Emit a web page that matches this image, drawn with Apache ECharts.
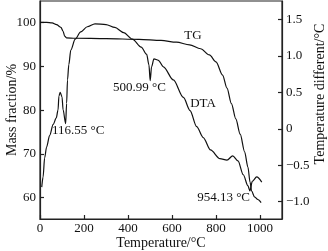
<!DOCTYPE html>
<html>
<head>
<meta charset="utf-8">
<script src="https://cdn.jsdelivr.net/npm/echarts@6/dist/echarts.min.js"></script>
<style>html,body{margin:0;padding:0;background:#fff}#c{width:328px;height:251px}</style>
</head>
<body>
<div id="c"></div>
<script>
// Temperature (°C) and TG mass fraction (%)
var tgTemp = [0, 30, 55, 75, 95, 105, 112, 120, 160, 300, 450, 550, 620, 680, 730, 770, 800, 830, 850, 870, 890, 910, 930, 945, 955, 962, 975, 990, 1005];
var tgMass = [100, 100, 99.9, 99.5, 98.9, 98.0, 96.9, 96.5, 96.4, 96.3, 96.15, 95.9, 95.5, 94.9, 94.0, 92.6, 91.0, 88.0, 85.0, 81.5, 78.0, 74.5, 70.5, 67.0, 63.5, 61.5, 60.2, 59.6, 58.9];
// Temperature (°C) and DTA temperature difference (°C)
var dtaTemp = [8, 14, 21, 30, 44, 60, 74, 82, 86, 92, 100, 105, 116.55, 121, 125, 131, 140, 160, 185, 215, 250, 300, 340, 380, 420, 460, 485, 495, 500.99, 507, 518, 538, 561, 606, 652, 682, 712, 742, 775, 818, 850, 876, 900, 924, 945, 954.13, 965, 985, 1008];
var dtaDiff = [-0.8, -0.66, -0.4, -0.25, -0.09, 0.06, 0.15, 0.26, 0.45, 0.5, 0.44, 0.26, 0.07, 0.35, 0.67, 0.88, 1.08, 1.23, 1.33, 1.40, 1.44, 1.43, 1.39, 1.32, 1.23, 1.12, 1.02, 0.88, 0.66, 0.85, 0.96, 0.94, 0.85, 0.67, 0.43, 0.25, 0.03, -0.12, -0.29, -0.41, -0.43, -0.37, -0.44, -0.63, -0.78, -0.85, -0.72, -0.66, -0.73];
// Tick labels
var xTicks = [0, 200, 400, 600, 800, 1000];
var leftTicks = [60, 70, 80, 90, 100];
var rightTicks = [-1.0, -0.5, 0, 0.5, 1.0, 1.5];
var rightTickText = {'-1': '\u22121.0', '-0.5': '\u22120.5', '0': '0', '0.5': '0.5', '1': '1.0', '1.5': '1.5'};

var FONT = '"Liberation Serif", "Times New Roman", serif';
function pairs(a, b) { return a.map(function (v, i) { return [v, b[i]]; }); }

var chart = echarts.init(document.getElementById('c'), null, {renderer: 'canvas'});
var axisLineStyle = {color: '#222', width: 1.2};
chart.setOption({
  animation: false,
  backgroundColor: '#fff',
  grid: {left: 40, right: 46, top: 1, bottom: 32, show: true, borderColor: '#222', borderWidth: 1.2, backgroundColor: 'transparent'},
  xAxis: {
    type: 'value', min: 0, max: 1100,
    axisLine: {show: true, onZero: false, lineStyle: axisLineStyle},
    axisTick: {show: true, inside: true, length: 4, customValues: xTicks, lineStyle: axisLineStyle},
    axisLabel: {customValues: xTicks, margin: 3, color: '#111', fontFamily: FONT, fontSize: 13,
      formatter: function (v) { return String(v); }},
    splitLine: {show: false}
  },
  yAxis: [{
    type: 'value', min: 55.15, max: 104.9, position: 'left',
    axisLine: {show: true, onZero: false, lineStyle: axisLineStyle},
    axisTick: {show: true, inside: true, length: 4, customValues: leftTicks, lineStyle: axisLineStyle},
    axisLabel: {customValues: leftTicks, margin: 4, color: '#111', fontFamily: FONT, fontSize: 13},
    splitLine: {show: false}
  }, {
    type: 'value', min: -1.237, max: 1.753, position: 'right',
    axisLine: {show: true, onZero: false, lineStyle: axisLineStyle},
    axisTick: {show: true, inside: true, length: 4, customValues: rightTicks, lineStyle: axisLineStyle},
    axisLabel: {customValues: rightTicks, margin: 4, color: '#111', fontFamily: FONT, fontSize: 13,
      formatter: function (v) { var k = String(Math.round(v * 10) / 10); return rightTickText[k] !== undefined ? rightTickText[k] : k; }},
    splitLine: {show: false}
  }],
  series: [{
    name: 'TG', type: 'line', yAxisIndex: 0, data: pairs(tgTemp, tgMass),
    showSymbol: false, smooth: 0.3, smoothMonotone: 'x',
    lineStyle: {color: '#111', width: 1.2}
  }, {
    name: 'DTA', type: 'line', yAxisIndex: 1, data: pairs(dtaTemp, dtaDiff),
    showSymbol: false, smooth: 0.3, smoothMonotone: 'x',
    lineStyle: {color: '#111', width: 1.2}
  }],
  graphic: [
    {type: 'text', x: 12, y: 110, rotation: Math.PI / 2, style: {text: 'Mass fraction/%', font: '14px ' + FONT, fill: '#111', align: 'center', verticalAlign: 'middle'}},
    {type: 'text', x: 320, y: 94, rotation: Math.PI / 2, style: {text: 'Temperature different/\u00b0C', font: '14px ' + FONT, fill: '#111', align: 'center', verticalAlign: 'middle'}},
    {type: 'text', x: 161, y: 243, style: {text: 'Temperature/\u00b0C', font: '14px ' + FONT, fill: '#111', align: 'center', verticalAlign: 'middle'}},
    {type: 'text', x: 193, y: 36, style: {text: 'TG', font: '13px ' + FONT, fill: '#111', align: 'center', verticalAlign: 'middle'}},
    {type: 'text', x: 203, y: 104, style: {text: 'DTA', font: '13px ' + FONT, fill: '#111', align: 'center', verticalAlign: 'middle'}},
    {type: 'text', x: 52, y: 131, style: {text: '116.55 \u00b0C', font: '13px ' + FONT, fill: '#111', align: 'left', verticalAlign: 'middle'}},
    {type: 'text', x: 113, y: 88, style: {text: '500.99 \u00b0C', font: '13px ' + FONT, fill: '#111', align: 'left', verticalAlign: 'middle'}},
    {type: 'text', x: 250, y: 198, style: {text: '954.13 \u00b0C', font: '13px ' + FONT, fill: '#111', align: 'right', verticalAlign: 'middle'}}
  ]
});
</script>
</body>
</html>
